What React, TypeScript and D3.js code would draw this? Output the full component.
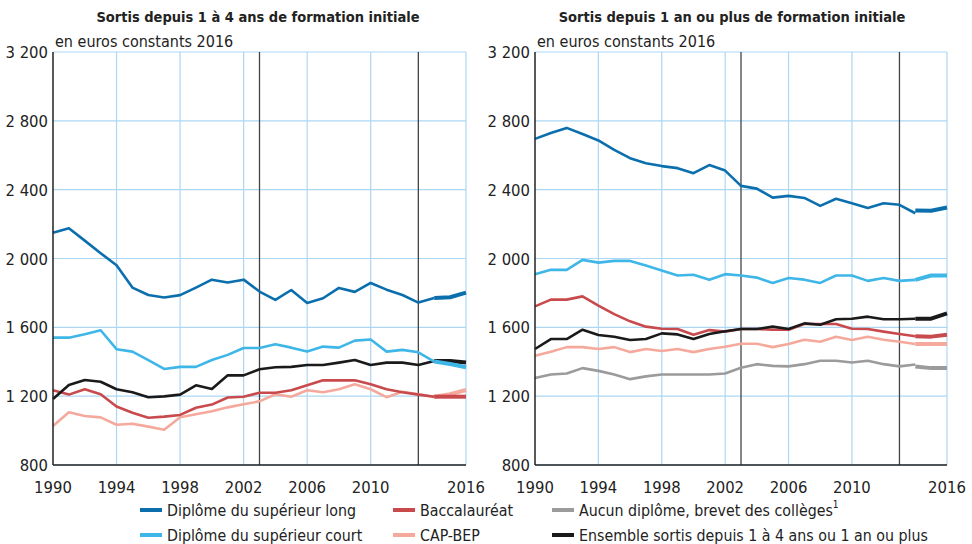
import React from 'react';
import * as d3 from 'd3';

// années 1990-2014 (ancienne série) puis 2014-2016 (nouvelle série, trait épais)
const oldYears = d3.range(1990, 2015);
const newYears = [2014, 2015, 2016];

const xTicks = [1990, 1994, 1998, 2002, 2006, 2010, 2016];
const yTicks = [800, 1200, 1600, 2000, 2400, 2800, 3200];
const breakYears = [2003, 2013];

// Sortis depuis 1 à 4 ans
const gSupLong = [2150, 2176, 2104, 2031, 1961, 1831, 1788, 1773, 1787, 1831, 1877, 1860, 1877, 1808, 1759, 1817, 1742, 1769, 1829, 1806, 1858, 1819, 1788, 1744, 1771];
const gSupLongNew = [1771, 1775, 1802];
const gSupCourt = [1540, 1540, 1560, 1583, 1473, 1459, 1410, 1358, 1370, 1370, 1410, 1440, 1480, 1480, 1502, 1482, 1459, 1488, 1482, 1523, 1529, 1459, 1469, 1455, 1401];
const gSupCourtNew = [1401, 1387, 1368];
const gBac = [1234, 1209, 1240, 1211, 1140, 1104, 1075, 1081, 1091, 1133, 1151, 1192, 1197, 1220, 1220, 1234, 1263, 1292, 1292, 1292, 1269, 1240, 1223, 1209, 1197];
const gBacNew = [1197, 1197, 1197];
const gCap = [1027, 1106, 1085, 1077, 1034, 1040, 1023, 1005, 1077, 1095, 1112, 1135, 1153, 1170, 1211, 1197, 1234, 1223, 1240, 1269, 1240, 1194, 1226, 1211, 1197];
const gCapNew = [1197, 1211, 1236];
const gEnsemble = [1184, 1265, 1294, 1284, 1240, 1223, 1194, 1199, 1209, 1263, 1242, 1321, 1321, 1356, 1368, 1370, 1381, 1381, 1395, 1410, 1381, 1395, 1395, 1381, 1405];
const gEnsembleNew = [1405, 1405, 1395];

// Sortis depuis 1 an ou plus
const dSupLong = [2695, 2729, 2759, 2723, 2686, 2631, 2583, 2554, 2537, 2525, 2496, 2543, 2511, 2422, 2406, 2354, 2364, 2352, 2306, 2347, 2321, 2294, 2321, 2312, 2263];
const dSupLongNew = [2279, 2277, 2296];
const dSupCourt = [1909, 1934, 1934, 1992, 1976, 1986, 1986, 1959, 1930, 1901, 1906, 1876, 1909, 1901, 1889, 1858, 1887, 1877, 1858, 1901, 1901, 1870, 1887, 1870, 1876];
const dSupCourtNew = [1876, 1901, 1901];
const dBac = [1722, 1761, 1761, 1780, 1726, 1677, 1635, 1604, 1592, 1590, 1557, 1584, 1575, 1590, 1590, 1586, 1586, 1619, 1619, 1619, 1592, 1590, 1575, 1561, 1548];
const dBacNew = [1548, 1546, 1557];
const dCap = [1435, 1458, 1485, 1485, 1474, 1485, 1456, 1474, 1462, 1474, 1456, 1474, 1487, 1505, 1505, 1485, 1503, 1528, 1516, 1545, 1526, 1545, 1528, 1516, 1503];
const dCapNew = [1503, 1503, 1503];
const dAucun = [1305, 1326, 1332, 1363, 1347, 1326, 1299, 1315, 1326, 1326, 1326, 1326, 1332, 1365, 1386, 1376, 1373, 1386, 1406, 1406, 1396, 1406, 1386, 1373, 1384];
const dAucunNew = [1373, 1363, 1363];
const dEnsemble = [1474, 1532, 1532, 1586, 1555, 1545, 1526, 1532, 1565, 1559, 1532, 1561, 1577, 1590, 1590, 1604, 1590, 1623, 1615, 1647, 1650, 1662, 1647, 1647, 1650];
const dEnsembleNew = [1650, 1650, 1681];

const C = {
  supLong: '#0b6fae',
  supCourt: '#3fb6e8',
  bac: '#c94a4c',
  cap: '#f5a99c',
  aucun: '#9b9b9b',
  ensemble: '#1a1a1a',
};

const FONT = "'DejaVu Sans Condensed', 'Liberation Sans Narrow', sans-serif";

interface Serie { old: number[]; neu: number[]; color: string }

const leftSeries: Serie[] = [
  { old: gCap, neu: gCapNew, color: C.cap },
  { old: gBac, neu: gBacNew, color: C.bac },
  { old: gEnsemble, neu: gEnsembleNew, color: C.ensemble },
  { old: gSupCourt, neu: gSupCourtNew, color: C.supCourt },
  { old: gSupLong, neu: gSupLongNew, color: C.supLong },
];

const rightSeries: Serie[] = [
  { old: dAucun, neu: dAucunNew, color: C.aucun },
  { old: dCap, neu: dCapNew, color: C.cap },
  { old: dBac, neu: dBacNew, color: C.bac },
  { old: dEnsemble, neu: dEnsembleNew, color: C.ensemble },
  { old: dSupCourt, neu: dSupCourtNew, color: C.supCourt },
  { old: dSupLong, neu: dSupLongNew, color: C.supLong },
];

const y = d3.scaleLinear().domain([800, 3200]).range([465, 52]);

const Panel: React.FC<{ x0: number; x1: number; titleX: number; title: string; series: Serie[] }> = ({ x0, x1, titleX, title, series }) => {
  const x = d3.scaleLinear().domain([1990, 2016]).range([x0, x1]);
  const line = d3.line<[number, number]>().x((d) => x(d[0])).y((d) => y(d[1]));
  return (
    <g>
      <text x={titleX} y={22} textAnchor="middle" fontWeight="bold" fontSize={14.5} fill="#222">{title}</text>
      <text x={x0 + 2} y={47} fontSize={16} fill="#222">en euros constants 2016</text>
      {yTicks.map((t) => (
        <line key={'gy' + t} x1={x0} x2={x1} y1={y(t)} y2={y(t)} stroke="#acd7f3" strokeWidth={1.2} />
      ))}
      {xTicks.slice(1).map((t) => (
        <line key={'gx' + t} x1={x(t)} x2={x(t)} y1={y(3200)} y2={y(800)} stroke="#acd7f3" strokeWidth={1.2} />
      ))}
      {breakYears.map((t) => (
        <line key={'b' + t} x1={x(t)} x2={x(t)} y1={y(3200)} y2={y(800)} stroke="#444" strokeWidth={1.3} />
      ))}
      {series.map((s, i) => (
        <g key={i}>
          <path d={line(oldYears.map((yr, j) => [yr, s.old[j]]))!} fill="none" stroke={s.color} strokeWidth={2.6} strokeLinejoin="round" />
          <path d={line(newYears.map((yr, j) => [yr, s.neu[j]]))!} fill="none" stroke={s.color} strokeWidth={4} strokeLinejoin="round" />
        </g>
      ))}
      <line x1={x0} x2={x0} y1={y(3200)} y2={y(800)} stroke="#222" strokeWidth={1.5} />
      <line x1={x0} x2={x1} y1={y(800)} y2={y(800)} stroke="#222" strokeWidth={1.5} />
      {yTicks.map((t) => (
        <text key={'ty' + t} x={x0 - 5} y={y(t) + 6} textAnchor="end" fontSize={16.5} fill="#222">
          {d3.format(',')(t).replace(',', ' ')}
        </text>
      ))}
      {xTicks.map((t) => (
        <text key={'tx' + t} x={x(t)} y={493} textAnchor="middle" fontSize={16.5} fill="#222">{t}</text>
      ))}
    </g>
  );
};

const legend = [
  { label: 'Diplôme du supérieur long', color: C.supLong, col: 0, row: 0 },
  { label: 'Diplôme du supérieur court', color: C.supCourt, col: 0, row: 1 },
  { label: 'Baccalauréat', color: C.bac, col: 1, row: 0 },
  { label: 'CAP-BEP', color: C.cap, col: 1, row: 1 },
  { label: 'Aucun diplôme, brevet des collèges', color: C.aucun, col: 2, row: 0, sup: '1' },
  { label: 'Ensemble sortis depuis 1 à 4 ans ou 1 an ou plus', color: C.ensemble, col: 2, row: 1 },
];
const legendCols = [140, 393, 552];

export default function App() {
  return (
    <svg width={972} height={544} style={{ position: 'absolute', left: 0, top: 0, background: '#fff' }} fontFamily={FONT}>
      <Panel x0={53} x1={466} titleX={258} title="Sortis depuis 1 à 4 ans de formation initiale" series={leftSeries} />
      <Panel x0={535} x1={947} titleX={732} title="Sortis depuis 1 an ou plus de formation initiale" series={rightSeries} />
      {legend.map((l) => {
        const lx = legendCols[l.col];
        const ly = 510 + l.row * 25;
        return (
          <g key={l.label}>
            <line x1={lx} x2={lx + 22} y1={ly} y2={ly} stroke={l.color} strokeWidth={4} />
            <text x={lx + 27} y={ly + 6} fontSize={15.8} fill="#222">
              {l.label}
              {l.sup && <tspan dy={-8} fontSize={10}>{l.sup}</tspan>}
            </text>
          </g>
        );
      })}
    </svg>
  );
}
